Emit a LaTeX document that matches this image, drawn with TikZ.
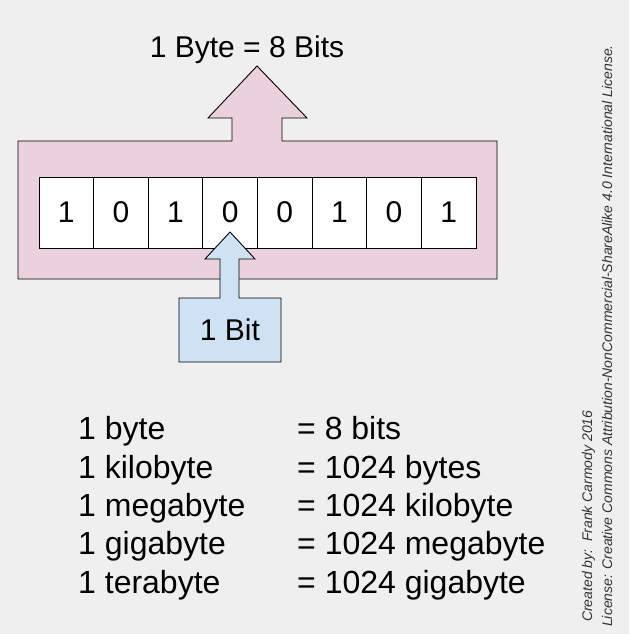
\documentclass[tikz,border=0pt]{standalone}
\usepackage{fontspec}
\setmainfont{Liberation Sans}
\definecolor{bggray}{HTML}{EFEFEF}
\definecolor{bytepink}{HTML}{EAD1DC}
\definecolor{bitblue}{HTML}{CFE2F3}
\begin{document}
\begin{tikzpicture}[x=1pt, y=-1pt,
    big/.style={inner sep=0pt, font=\fontsize{30}{36}\selectfont},
    row/.style={inner sep=0pt, anchor=base west, font=\fontsize{32}{38}\selectfont},
    cell/.style={draw=black, fill=white, line width=0.9pt, minimum width=54.6pt,
      minimum height=71pt, inner sep=0pt, font=\fontsize{30}{36}\selectfont},
    credit/.style={inner sep=0pt, anchor=base west, rotate=90,
      font=\fontsize{14}{16}\selectfont\itshape, text=black!80}]
    \fill[bggray] (0, 0) rectangle (629, 634);
    \useasboundingbox (0, 0) rectangle (629, 634);

      % byte frame with its arrow
      \draw[fill=bytepink, line width=0.9pt] (18, 141) -- (232, 141) -- (232, 118) -- (208, 118)
        -- (257, 66) -- (307, 118) -- (282, 118) -- (282, 141) -- (497, 141)
        -- (497, 279) -- (18, 279) -- cycle;
      \node[big, anchor=base] (title) at (247, 58){1 Byte = 8 Bits};

      % the eight bits
      \node[cell] (b1) at (66.3, 212.5){1};
      \node[cell] (b2) at (120.9, 212.5){0};
      \node[cell] (b3) at (175.5, 212.5){1};
      \node[cell] (b4) at (230.1, 212.5){0};
      \node[cell] (b5) at (284.8, 212.5){0};
      \node[cell] (b6) at (339.4, 212.5){1};
      \node[cell] (b7) at (394.0, 212.5){0};
      \node[cell] (b8) at (448.7, 212.5){1};

      % one bit
      \draw[fill=bitblue, line width=0.9pt] (179, 362) -- (179, 298) -- (220, 298) -- (220, 259)
        -- (205, 259) -- (230, 232) -- (255, 259) -- (239, 259) -- (239, 298)
        -- (281, 298) -- (281, 362) -- cycle;
      \node[big, anchor=base] (bit) at (230, 340){1 Bit};

     \node[row] (r1) at (78, 439){1 byte};
      \node[row] (r2) at (78, 478){1 kilobyte};
      \node[row] (r3) at (78, 516){1 megabyte};
      \node[row] (r4) at (78, 554){1 gigabyte};
      \node[row] (r5) at (78, 593){1 terabyte};
     \node[row] (v1) at (297, 439){= 8 bits};
      \node[row] (v2) at (297, 478){= 1024 bytes};
      \node[row] (v3) at (297, 516){= 1024 kilobyte};
      \node[row] (v4) at (297, 554){= 1024 megabyte};
      \node[row] (v5) at (297, 593){= 1024 gigabyte};

     \node[credit] (made) at (592, 622){Created by:\, Frank Carmody 2016};
      \node[credit] (lic) at (612, 627){License: Creative Commons Attribution-NonCommercial-ShareAlike 4.0 International License.};
    \end{tikzpicture}
\end{document}
